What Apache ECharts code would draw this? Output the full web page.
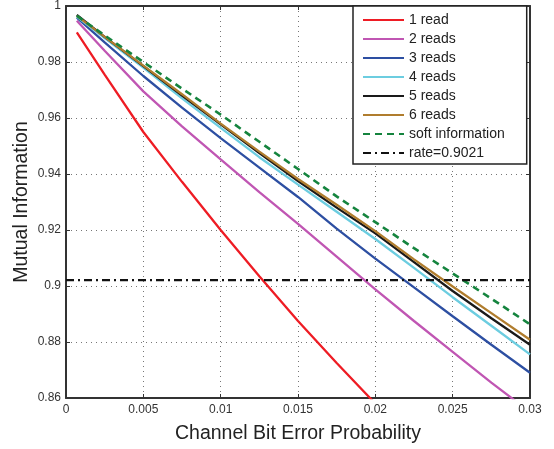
<!DOCTYPE html>
<html>
<head>
<meta charset="utf-8">
<script src="https://cdn.jsdelivr.net/npm/echarts@6/dist/echarts.min.js"></script>
<style>
  html, body { margin: 0; padding: 0; background: #fff; }
  #main { width: 554px; height: 449px; }
</style>
</head>
<body>
<div id="main"></div>
<script>
// channel bit error probability (x) shared by all curves
var errProb = [0.0007, 0.0025, 0.005, 0.0075, 0.01, 0.0125, 0.015, 0.0175, 0.02, 0.0225, 0.025, 0.0275, 0.03];

var read1 = [0.9906, 0.9755, 0.955, 0.9372, 0.920, 0.9035, 0.8875, 0.8725, 0.858];
var read2 = [0.9947, 0.984, 0.9695, 0.957, 0.9452, 0.9335, 0.9222, 0.9105, 0.8988, 0.8875, 0.8765, 0.8655, 0.855];
var read3 = [0.9958, 0.987, 0.975, 0.9637, 0.9528, 0.9423, 0.9318, 0.9205, 0.9098, 0.8995, 0.8892, 0.879, 0.869];
var read4 = [0.9962, 0.9885, 0.978, 0.967, 0.9565, 0.946, 0.9362, 0.9265, 0.9168, 0.9065, 0.896, 0.8858, 0.8756];
var read5 = [0.9968, 0.989, 0.9785, 0.968, 0.9577, 0.9475, 0.9375, 0.928, 0.9188, 0.9085, 0.8982, 0.8885, 0.879];
var read6 = [0.9965, 0.989, 0.9787, 0.9685, 0.958, 0.948, 0.9382, 0.929, 0.9196, 0.9095, 0.8998, 0.8903, 0.8808];
var softInfo = [0.9965, 0.9895, 0.980, 0.9705, 0.9612, 0.9515, 0.9418, 0.932, 0.9228, 0.9135, 0.9045, 0.8955, 0.8863];

var rateX = [0, 0.03];
var rateVal = 0.9021;

var names = ['1 read', '2 reads', '3 reads', '4 reads', '5 reads', '6 reads', 'soft information', 'rate=0.9021'];

function pairs(xs, ys) {
  var out = [];
  for (var i = 0; i < ys.length; i++) {
    out.push([xs[i], ys[i]]);
  }
  return out;
}

function mkLine(name, vals, color, type, width) {
  return {
    name: name,
    type: 'line',
    symbol: 'none',
    showSymbol: false,
    color: color,
    lineStyle: { color: color, width: width || 2.3, type: type || 'solid' },
    data: pairs(errProb, vals)
  };
}

var font = 'Liberation Sans, Arial, Helvetica, sans-serif';

var chart = echarts.init(document.getElementById('main'), null, { renderer: 'canvas' });

var option = {
  backgroundColor: '#fff',
  animation: false,
  textStyle: { fontFamily: font },
  grid: {
    left: 66,
    right: 24,
    top: 5,
    bottom: 47,
    containLabel: false
  },
  legend: {
    data: names,
    orient: 'vertical',
    left: 353,
    top: 6,
    padding: [7, 22, 4, 9],
    itemWidth: 41,
    itemHeight: 14,
    itemGap: 5,
    backgroundColor: '#fff',
    borderColor: '#222',
    borderWidth: 1.5,
    z: 10,
    itemStyle: { opacity: 0 },
    textStyle: { fontSize: 14, color: '#222', fontFamily: font }
  },
  xAxis: [{
    type: 'value',
    min: 0,
    max: 0.03,
    interval: 0.005,
    name: 'Channel Bit Error Probability',
    nameLocation: 'middle',
    nameGap: 26,
    nameMoveOverlap: false,
    nameTextStyle: { fontSize: 19.5, color: '#222', fontFamily: font },
    axisLine: { show: true, onZero: false, lineStyle: { color: '#333', width: 2 } },
    axisTick: { show: true, inside: true, length: 4, lineStyle: { color: '#333' } },
    axisLabel: { fontSize: 12, color: '#333', margin: 6, fontFamily: font },
    splitLine: { show: true, lineStyle: { color: '#777', type: [1, 4], width: 1 } }
  }, {
    type: 'value',
    position: 'top',
    min: 0,
    max: 0.03,
    interval: 0.005,
    axisLine: { show: true, onZero: false, lineStyle: { color: '#333', width: 2 } },
    axisTick: { show: true, inside: true, length: 4, lineStyle: { color: '#333' } },
    axisLabel: { show: false },
    splitLine: { show: false }
  }],
  yAxis: [{
    type: 'value',
    min: 0.86,
    max: 1,
    interval: 0.02,
    name: 'Mutual Information',
    nameLocation: 'middle',
    nameGap: 34,
    nameMoveOverlap: false,
    nameTextStyle: { fontSize: 19.5, color: '#222', fontFamily: font },
    axisLine: { show: true, onZero: false, lineStyle: { color: '#333', width: 2 } },
    axisTick: { show: true, inside: true, length: 4, lineStyle: { color: '#333' } },
    axisLabel: { fontSize: 12, color: '#333', margin: 5, fontFamily: font },
    splitLine: { show: true, lineStyle: { color: '#777', type: [1, 4], width: 1 } }
  }, {
    type: 'value',
    position: 'right',
    min: 0.86,
    max: 1,
    interval: 0.02,
    axisLine: { show: true, onZero: false, lineStyle: { color: '#333', width: 2 } },
    axisTick: { show: true, inside: true, length: 4, lineStyle: { color: '#333' } },
    axisLabel: { show: false },
    splitLine: { show: false }
  }],
  series: [
    mkLine('1 read', read1, '#ee1c24'),
    mkLine('2 reads', read2, '#c056b3'),
    mkLine('3 reads', read3, '#2d4fa2'),
    mkLine('4 reads', read4, '#6ccde0'),
    mkLine('5 reads', read5, '#1a1a1a'),
    mkLine('6 reads', read6, '#b07d2e'),
    mkLine('soft information', softInfo, '#15843e', [7, 5], 2.6),
    {
      name: 'rate=0.9021',
      type: 'line',
      symbol: 'none',
      showSymbol: false,
      color: '#111',
      lineStyle: { color: '#111', width: 2.2, type: [8, 4, 2, 4] },
      data: rateX.map(function (x) { return [x, rateVal]; })
    }
  ]
};

chart.setOption(option);
</script>
</body>
</html>
